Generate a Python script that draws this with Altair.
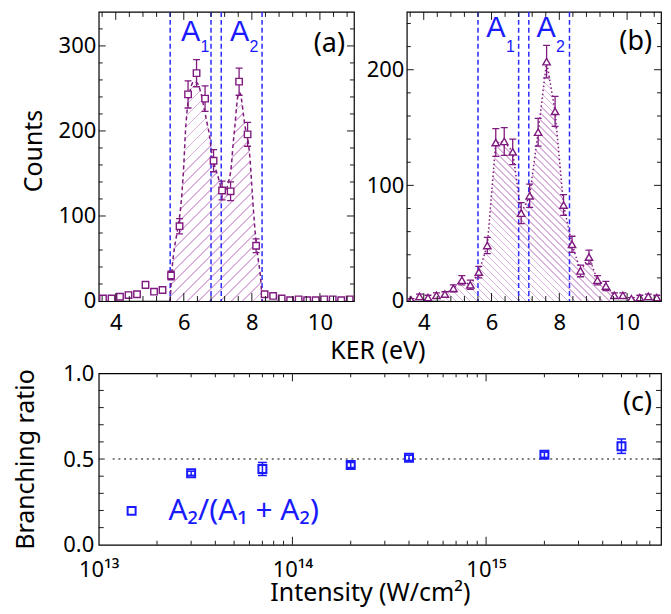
import altair as alt
import pandas as pd

# ---------------- data ----------------
ker = [3.625, 3.875, 4.125, 4.375, 4.625, 4.875, 5.125, 5.375, 5.625, 5.875,
       6.125, 6.375, 6.625, 6.875, 7.125, 7.375, 7.625, 7.875, 8.125, 8.375,
       8.625, 8.875, 9.125, 9.375, 9.625, 9.875, 10.125, 10.375, 10.625, 10.875]
counts_a = [3, 3, 5, 7, 8, 19, 11, 13, 30, 88,
            243, 268, 238, 165, 130, 129, 258, 196, 65, 8,
            6, 3, 1, 2, 1, 1, 2, 2, 1, 2]
err_a = [2, 2, 2, 3, 3, 4, 3, 4, 5, 9,
         16, 16, 15, 13, 11, 11, 16, 14, 8, 3,
         2, 2, 1, 1, 1, 1, 1, 1, 1, 1]
counts_b = [1, 4, 3, 5, 6, 11, 18, 14, 25, 48,
            137, 138, 129, 76, 91, 146, 207, 164, 83, 49,
            26, 38, 18, 13, 5, 5, 2, 3, 4, 3]
err_b = [1, 2, 2, 2, 2, 3, 4, 4, 5, 7,
         12, 12, 11, 9, 10, 12, 14, 13, 9, 7,
         5, 6, 4, 4, 2, 2, 1, 2, 2, 2]
fit_ker = [5.60, 5.65, 5.70, 5.80, 5.90, 6.00, 6.05, 6.10, 6.20, 6.30, 6.40,
           6.50, 6.60, 6.70, 6.75, 6.80, 6.90, 7.00, 7.10, 7.20, 7.30, 7.40,
           7.45, 7.50, 7.55, 7.60, 7.65, 7.70, 7.75, 7.80, 7.85, 7.90, 7.95,
           8.00, 8.05, 8.10, 8.15, 8.20, 8.25, 8.30]
fit_counts = [0, 35, 55, 80, 107, 160, 200, 225, 250, 258, 256,
              245, 226, 206, 196, 180, 160, 147, 133, 128, 138, 160,
              185, 205, 228, 243, 245, 236, 220, 205, 196, 185, 165,
              135, 105, 80, 60, 45, 30, 0]
b_range = [4.6, 9.7]
window_edges = [5.6, 6.8, 7.1, 8.3]
label_x_a = [6.2, 7.64]
label_x_b = [6.13, 7.61]
label_sub = ["1", "2"]

ker_ticks = [4, 6, 8, 10]
ker_minor = [3.6, 4.4, 4.8, 5.2, 5.6, 6.4, 6.8, 7.2, 7.6, 8.4, 8.8, 9.2, 9.6, 10.4, 10.8]
counts_a_ticks = [0, 100, 200, 300]
counts_a_minor = [20, 40, 60, 80, 120, 140, 160, 180, 220, 240, 260, 280, 320]
counts_b_ticks = [0, 100, 200]
counts_b_minor = [20, 40, 60, 80, 120, 140, 160, 180, 220, 240]

intensity = [3e13, 7e13, 2e14, 4e14, 2e15, 5e15]
ratio = [0.417, 0.442, 0.465, 0.507, 0.525, 0.575]
ratio_err = [0.012, 0.038, 0.015, 0.015, 0.015, 0.042]
series_name = "A₂/(A₁ + A₂)"
int_ticks = [1e13, 1e14, 1e15]
int_minor = [2e13, 3e13, 4e13, 5e13, 6e13, 7e13, 8e13, 9e13,
             2e14, 3e14, 4e14, 5e14, 6e14, 7e14, 8e14, 9e14,
             2e15, 3e15, 4e15, 5e15, 6e15, 7e15]
ratio_ticks = [0.0, 0.5, 1.0]
ratio_minor = [0.1, 0.2, 0.3, 0.4, 0.6, 0.7, 0.8, 0.9]
ref_line = [0.5]

# ---------------- style ----------------
FONT = "Noto Sans"
AFONT = "Liberation Sans"
PURPLE = "#7f1a7f"
BLUE = "#1a1aff"
DASHBLUE = "#2b2bff"
HATCH = "#dbb2db"
WA, WB, H_AB = 256, 255, 290
WC, HC = 564, 172
one = pd.DataFrame({"d": [0]})


def hatch_fill(W, H, spacing, lw, color, rising):
    L = W + H
    r = H / W
    s = L / (W * (1 + r * r))
    stops = [alt.GradientStop(color="white", offset=0)]
    pos = spacing / 2
    while pos + lw < L:
        a, b = pos / L, (pos + lw) / L
        stops += [alt.GradientStop(color="white", offset=a),
                  alt.GradientStop(color=color, offset=a),
                  alt.GradientStop(color=color, offset=b),
                  alt.GradientStop(color="white", offset=b)]
        pos += spacing
    stops.append(alt.GradientStop(color="white", offset=1))
    if rising:
        return alt.LinearGradient(gradient="linear", stops=stops, x1=0, y1=0, x2=s, y2=s * r)
    return alt.LinearGradient(gradient="linear", stops=stops, x1=0, y1=1, x2=s, y2=1 - s * r)


def ticks_x(vals, scale, h, length):
    df = pd.DataFrame({"v": vals})
    base = alt.Chart(df).mark_rule(color="#1a1a1a", strokeWidth=1)
    xe = alt.X("v:Q", scale=scale)
    return [base.encode(x=xe, y=alt.value(h), y2=alt.value(h - length)),
            base.encode(x=xe, y=alt.value(0), y2=alt.value(length))]


def ticks_y(vals, scale, w, length):
    df = pd.DataFrame({"v": vals})
    base = alt.Chart(df).mark_rule(color="#1a1a1a", strokeWidth=1)
    ye = alt.Y("v:Q", scale=scale)
    return [base.encode(y=ye, x=alt.value(0), x2=alt.value(length)),
            base.encode(y=ye, x=alt.value(w), x2=alt.value(w - length))]


def bound_rule():
    return alt.Chart(one).mark_rule(color="white", strokeWidth=1).encode(
        x=alt.value(-89.5), x2=alt.value(-89.5), y=alt.value(60), y2=alt.value(61))


def spectrum_panel(counts, errs, w, ydom, yticks, yminor, label_x, a_y, sub_y,
                   plabel, pl_y, ytitle, shape, size, area_df, line_dash,
                   interp, grad, extra_left):
    xs = alt.Scale(domain=[3.5, 11], nice=False, zero=False)
    ys = alt.Scale(domain=ydom, nice=False, zero=False)
    xe = lambda f: alt.X(f, scale=xs)
    ye = lambda f: alt.Y(f, scale=ys)
    df = pd.DataFrame({"ker": ker, "counts": counts, "err": errs})
    df["lo"] = df["counts"] - df["err"]
    df["hi"] = df["counts"] + df["err"]

    if ytitle:
        yaxis = alt.Axis(values=yticks, labelPadding=3, title=ytitle,
                         titleX=-57.5, titleY=139, titleAngle=270,
                         titleBaseline="alphabetic")
    else:
        yaxis = alt.Axis(values=yticks, labelPadding=3, title="")
    axes = alt.Chart(df).mark_point(opacity=0, size=1).encode(
        x=alt.X("ker:Q", scale=xs,
                axis=alt.Axis(values=ker_ticks, labelPadding=12, title="")),
        y=alt.Y("counts:Q", scale=ys, axis=yaxis))
    area = alt.Chart(area_df).mark_area(fill=grad, interpolate=interp).encode(
        x=xe("x:Q"), y=ye("y:Q"))
    windows = alt.Chart(pd.DataFrame({"x": window_edges})).mark_rule(
        color=DASHBLUE, strokeDash=[5, 3], strokeWidth=1.5).encode(x=xe("x:Q"))
    line = alt.Chart(area_df).mark_line(color=PURPLE, strokeDash=line_dash,
                                        strokeWidth=1.5, interpolate=interp).encode(
        x=xe("x:Q"), y=ye("y:Q"))
    bars = alt.Chart(df).mark_rule(color=PURPLE, strokeWidth=1.3, clip=True).encode(
        x=xe("ker:Q"), y=ye("lo:Q"), y2="hi:Q")
    cap_lo = alt.Chart(df).mark_tick(orient="horizontal", size=7, thickness=1.3,
                                     color=PURPLE, opacity=1, clip=True).encode(
        x=xe("ker:Q"), y=ye("lo:Q"))
    cap_hi = alt.Chart(df).mark_tick(orient="horizontal", size=7, thickness=1.3,
                                     color=PURPLE, opacity=1, clip=True).encode(
        x=xe("ker:Q"), y=ye("hi:Q"))
    pts = alt.Chart(df).mark_point(shape=shape, size=size, filled=True, fill="white",
                                   stroke=PURPLE, strokeWidth=1.4, opacity=1,
                                   clip=True).encode(
        x=xe("ker:Q"), y=ye("counts:Q"))
    lab_df = pd.DataFrame({"x": label_x, "sub": label_sub})
    a_txt = alt.Chart(lab_df).mark_text(text="A", font=AFONT, fontSize=29, color=BLUE,
                                        align="center", baseline="alphabetic").encode(
        x=xe("x:Q"), y=alt.value(a_y))
    s_txt = alt.Chart(lab_df).mark_text(font=AFONT, fontSize=16, color=BLUE,
                                        align="left", baseline="alphabetic", dx=10).encode(
        x=xe("x:Q"), y=alt.value(sub_y), text="sub:N")
    p_txt = alt.Chart(one).mark_text(text=plabel, font=FONT, fontSize=27, color="black",
                                     align="right", baseline="alphabetic").encode(
        x=alt.value(w - 9), y=alt.value(pl_y))
    layers = [axes, area, windows, line, bars, cap_lo, cap_hi, pts, a_txt, s_txt, p_txt]
    layers += ticks_x(ker_minor, xs, H_AB, 5) + ticks_x(ker_ticks, xs, H_AB, 8)
    layers += ticks_y(yminor, ys, w, 4) + ticks_y(yticks[1:], ys, w, 7)
    if extra_left:
        layers.append(bound_rule())
    return alt.layer(*layers).properties(width=w, height=H_AB)


# ---- panel (a)
fit_df = pd.DataFrame({"x": fit_ker, "y": fit_counts})
Wa_px = (max(fit_ker) - min(fit_ker)) * WA / 7.5
Ha_px = max(fit_counts) * H_AB / 340
grad_a = hatch_fill(Wa_px, Ha_px, 11, 1.6, HATCH, rising=True)
panel_a = spectrum_panel(counts_a, err_a, WA, [0, 340], counts_a_ticks, counts_a_minor,
                         label_x_a, 29.2, 40.7, "(a)", 40.5, "Counts", "square", 42,
                         fit_df, [4, 3], "monotone", grad_a, True)

# ---- panel (b)
b_df = pd.DataFrame({"x": ker, "y": counts_b})
b_df = b_df[(b_df["x"] >= b_range[0]) & (b_df["x"] <= b_range[1])]
Wb_px = (b_df["x"].max() - b_df["x"].min()) * WB / 7.5
Hb_px = b_df["y"].max() * H_AB / 250
grad_b = hatch_fill(Wb_px, Hb_px, 7, 1.5, HATCH, rising=False)
panel_b = spectrum_panel(counts_b, err_b, WB, [0, 250], counts_b_ticks, counts_b_minor,
                         label_x_b, 25.0, 40.0, "(b)", 38.7, None, "triangle-up", 55,
                         b_df, [1.5, 2.5], "linear", grad_b, False)

# ---- panel (c)
xs_c = alt.Scale(type="log", domain=[1e13, 8e15], nice=False)
ys_c = alt.Scale(domain=[0, 1], nice=False, zero=False)
df_c = pd.DataFrame({"intensity": intensity, "ratio": ratio, "err": ratio_err,
                     "series": [series_name] * len(intensity)})
df_c["lo"] = df_c["ratio"] - df_c["err"]
df_c["hi"] = df_c["ratio"] + df_c["err"]
xc = lambda f: alt.X(f, scale=xs_c)
yc = lambda f: alt.Y(f, scale=ys_c)

axes_c = alt.Chart(df_c).mark_point(opacity=0, size=1).encode(
    x=alt.X("intensity:Q", scale=xs_c,
            axis=alt.Axis(values=int_ticks, labelPadding=15,
                          labelExpr="datum.value < 5e13 ? '10¹³' : datum.value < 5e14 ? '10¹⁴' : '10¹⁵'",
                          title="Intensity (W/cm²)", titleX=272, titleY=56,
                          titleBaseline="alphabetic", titleAlign="center")),
    y=alt.Y("ratio:Q", scale=ys_c,
            axis=alt.Axis(values=ratio_ticks, format=".1f", labelPadding=5,
                          title="Branching ratio", titleX=-65, titleAngle=270,
                          titleBaseline="alphabetic")))
refl = alt.Chart(pd.DataFrame({"v": ref_line})).mark_rule(
    color="#808080", strokeDash=[2, 3.7], strokeWidth=2).encode(
    y=yc("v:Q"), x=alt.value(14), x2=alt.value(WC))
bars_c = alt.Chart(df_c).mark_rule(color=BLUE, strokeWidth=1.5).encode(
    x=xc("intensity:Q"), y=yc("lo:Q"), y2="hi:Q")
caplo_c = alt.Chart(df_c).mark_tick(orient="horizontal", size=9, thickness=1.5,
                                    color=BLUE, opacity=1).encode(
    x=xc("intensity:Q"), y=yc("lo:Q"))
caphi_c = alt.Chart(df_c).mark_tick(orient="horizontal", size=9, thickness=1.5,
                                    color=BLUE, opacity=1).encode(
    x=xc("intensity:Q"), y=yc("hi:Q"))
pts_c = alt.Chart(df_c).mark_point(shape="square", size=64, strokeWidth=2,
                                   filled=False, opacity=1).encode(
    x=xc("intensity:Q"), y=yc("ratio:Q"),
    color=alt.Color("series:N", scale=alt.Scale(domain=[series_name], range=[BLUE]),
                    legend=alt.Legend(title=None, orient="none", legendX=18, legendY=123,
                                      padding=0, labelFont=FONT, labelFontSize=30,
                                      labelColor=BLUE, labelOffset=22, labelLimit=400,
                                      symbolSize=64, symbolStrokeWidth=2,
                                      symbolType="square")))
c_lab = alt.Chart(one).mark_text(text="(c)", font=FONT, fontSize=27, color="black",
                                 align="right", baseline="alphabetic").encode(
    x=alt.value(WC - 9), y=alt.value(38.3))
ker_title = alt.Chart(one).mark_text(text="KER (eV)", font=FONT, fontSize=25,
                                     color="black", align="center",
                                     baseline="alphabetic").encode(
    x=alt.value(280), y=alt.value(-14.7))
layers_c = [axes_c, refl, bars_c, caplo_c, caphi_c, pts_c, c_lab, ker_title]
layers_c += ticks_x(int_minor, xs_c, HC, 4) + ticks_x(int_ticks[1:], xs_c, HC, 8)
layers_c += ticks_y(ratio_minor, ys_c, WC, 5) + ticks_y([0.5], ys_c, WC, 6)
layers_c.append(bound_rule())
panel_c = alt.layer(*layers_c).properties(width=WC, height=HC)

top = alt.hconcat(panel_a, panel_b, spacing=53, bounds="flush")
chart = alt.vconcat(top, panel_c, spacing=2.5).resolve_scale(
    color="independent").resolve_legend(color="independent").properties(
    padding={"left": 0, "top": 1, "right": 0, "bottom": 0}
).configure_view(stroke="black", strokeWidth=1.2).configure_axis(
    ticks=False, tickSize=0, domain=False, grid=False,
    labelFont=FONT, labelFontSize=22, labelColor="black",
    titleFont=FONT, titleFontSize=25, titleFontWeight="normal", titleColor="black",
    labelFlush=False, labelOverlap=False)

chart.save("out.html", embed_options={"renderer": "svg", "actions": False})
